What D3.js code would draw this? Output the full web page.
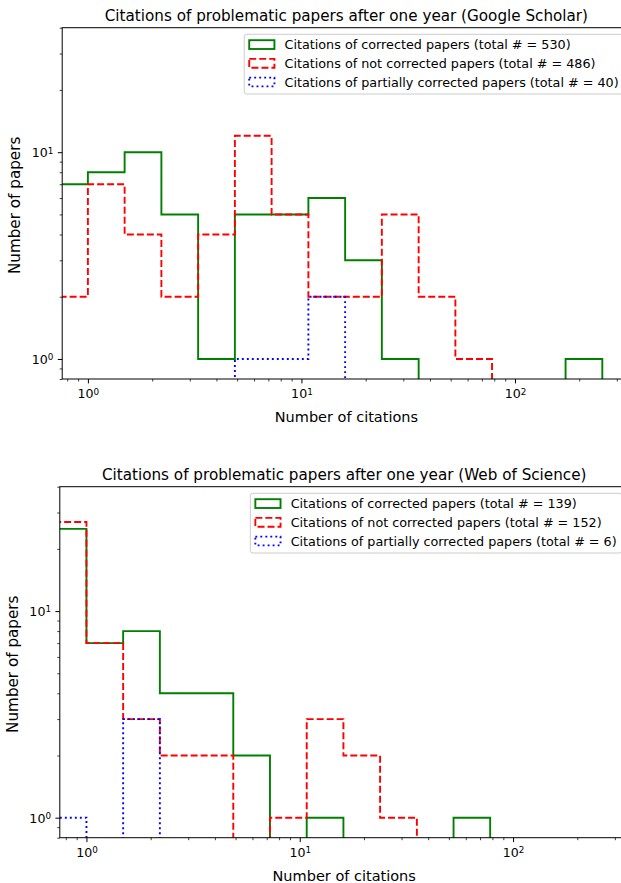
<!DOCTYPE html>
<html>
<head>
<meta charset="utf-8">
<title>Citations of problematic papers</title>
<script src="https://d3js.org/d3.v7.min.js"></script>
<style>
    body { margin: 0; background: #fff; }
    text { font-family: "DejaVu Sans", sans-serif; fill: #000; }
</style>
</head>
<body>
<script>
// log spaced bin edges shared by both histograms, first bin is [0, 1)
const binEdges = [0, 1, 1.486, 2.209, 3.283, 4.879, 7.25, 10.78, 16.02, 23.8, 35.4, 52.6, 78.1, 116.1, 172.6, 256.5];

// Google Scholar, number of papers per bin
const gsCorrected    = [7, 8, 10, 5, 1, 5, 5, 6, 3, 1, 0, 0, 0, 0, 1];
const gsNotCorrected = [2, 7, 4, 2, 4, 12, 5, 2, 2, 5, 2, 1, 0, 0, 0];
const gsPartial      = [0, 0, 0, 0, 0, 1, 1, 2, 0, 0, 0, 0, 0, 0, 0];

// Web of Science, number of papers per bin
const wosCorrected    = [25, 7, 8, 4, 4, 2, 0, 1, 0, 0, 0, 1, 0, 0, 0];
const wosNotCorrected = [27, 7, 3, 2, 2, 0, 1, 3, 2, 1, 0, 0, 0, 0, 0];
const wosPartial      = [1, 0, 3, 0, 0, 0, 0, 0, 0, 0, 0, 0, 0, 0, 0];

const seriesNames = ["corrected", "not corrected", "partially corrected"];
const gsTotals  = [530, 486, 40];
const wosTotals = [139, 152, 6];

const titles = [
    "Citations of problematic papers after one year (Google Scholar)",
    "Citations of problematic papers after one year (Web of Science)"
];
const xMajorTicks = [1, 10, 100];
const yMajorTicks = [1, 10];

// styles for the three step lines
const lineStyles = [
    { color: "#008000", dash: null },
    { color: "#ff0000", dash: "7,3" },
    { color: "#0000ff", dash: "1.9,3.1" }
];

const W = 621, H = 883;
const fs = 12.6;       // tick labels
const legendFs = 12.75;
const titleFs = 15.2;
const xLabelFs = 14.5;
const yLabelFs = 15.2;

const svg = d3.select("body").append("svg")
    .attr("width", W)
    .attr("height", H);

svg.append("rect").attr("width", W).attr("height", H).attr("fill", "#fff");

const panels = [
    { left: 62.2, top: 27.7, right: 630.6, bottom: 379, xmin: 0.758, xmax: 348,
      counts: [gsCorrected, gsNotCorrected, gsPartial], totals: gsTotals, title: titles[0] },
    { left: 59.8, top: 486.7, right: 628.6, bottom: 837.7, xmin: 0.75, xmax: 348,
      counts: [wosCorrected, wosNotCorrected, wosPartial], totals: wosTotals, title: titles[1] }
];

function stepPoints(counts) {
    let pts = [[binEdges[0], 0]];
    counts.forEach(function (c, i) {
        pts.push([binEdges[i], c], [binEdges[i + 1], c]);
    });
    pts.push([binEdges[binEdges.length - 1], 0]);
    return pts;
}

function supLabel(sel) {
    // turn "10" into 10 with a superscript exponent
    sel.append("tspan")
        .attr("dy", "-0.42em")
        .attr("font-size", 8.8)
        .text(function (d) { return Math.round(Math.log10(d)); });
}

panels.forEach(function (p, pi) {
    const w = p.right - p.left, h = p.bottom - p.top;
    const g = svg.append("g").attr("transform", `translate(${p.left},${p.top})`);

    const x = d3.scaleLog().domain([p.xmin, p.xmax]).range([0, w]);
    const y = d3.scaleLog().domain([0.8, 40]).range([h, 0]);

    const clipId = "clip" + pi;
    g.append("clipPath").attr("id", clipId)
        .append("rect").attr("width", w).attr("height", h);

    // zero counts / zero edge fall outside the axes and get clipped, like matplotlib
    const line = d3.line()
        .x(function (d) { return x(d[0] > 0 ? d[0] : x.domain()[0] / 10); })
        .y(function (d) { return y(d[1] > 0 ? d[1] : y.domain()[0] / 10); });

    const lines = g.append("g").attr("clip-path", `url(#${clipId})`);
    p.counts.forEach(function (c, i) {
        lines.append("path")
            .attr("d", line(stepPoints(c)))
            .attr("fill", "none")
            .attr("stroke", lineStyles[i].color)
            .attr("stroke-width", 1.9)
            .attr("stroke-linejoin", "miter")
            .attr("stroke-dasharray", lineStyles[i].dash);
    });

    // minor ticks
    const xMinor = x.ticks().filter(function (t) { return xMajorTicks.indexOf(t) < 0; });
    const yMinor = y.ticks().filter(function (t) { return yMajorTicks.indexOf(t) < 0; });

    g.append("g").attr("transform", `translate(0,${h})`)
        .call(d3.axisBottom(x).tickValues(xMinor).tickSize(2.5).tickSizeOuter(0).tickFormat(""))
        .call(function (a) { a.select(".domain").remove(); a.selectAll("line").attr("stroke-width", 0.76); });
    g.append("g")
        .call(d3.axisLeft(y).tickValues(yMinor).tickSize(2.5).tickSizeOuter(0).tickFormat(""))
        .call(function (a) { a.select(".domain").remove(); a.selectAll("line").attr("stroke-width", 0.76); });

    // major ticks with 10^n labels
    const gx = g.append("g").attr("transform", `translate(0,${h})`)
        .call(d3.axisBottom(x).tickValues(xMajorTicks).tickSize(4.4).tickPadding(4.4).tickSizeOuter(0)
            .tickFormat(function () { return "10"; }));
    gx.select(".domain").remove();
    gx.selectAll("line").attr("stroke-width", 1);
    gx.selectAll("text").attr("font-size", fs).attr("font-family", "DejaVu Sans").attr("dy", null).attr("y", 19.3).call(supLabel);

    const gy = g.append("g")
        .call(d3.axisLeft(y).tickValues(yMajorTicks).tickSize(4.4).tickPadding(4.4).tickSizeOuter(0)
            .tickFormat(function () { return "10"; }));
    gy.select(".domain").remove();
    gy.selectAll("line").attr("stroke-width", 1);
    gy.selectAll("text").attr("font-size", fs).attr("font-family", "DejaVu Sans").attr("dy", null).attr("y", 4.6).call(supLabel);

    // frame
    g.append("rect").attr("width", w).attr("height", h)
        .attr("fill", "none").attr("stroke", "#000").attr("stroke-width", 1);

    // title and axis labels
    g.append("text").attr("x", w / 2).attr("y", -7)
        .attr("text-anchor", "middle").attr("font-size", titleFs).text(p.title);
    g.append("text").attr("x", w / 2).attr("y", h + 43.5)
        .attr("text-anchor", "middle").attr("font-size", xLabelFs).text("Number of citations");
    g.append("text").attr("transform", `translate(-42,${h / 2 + 2}) rotate(-90)`)
        .attr("text-anchor", "middle").attr("font-size", yLabelFs).text("Number of papers");

    // legend, upper right
    const lg = g.append("g");
    const labels = seriesNames.map(function (n, i) {
        return `Citations of ${n} papers (total # = ${p.totals[i]})`;
    });
    const texts = lg.selectAll("text.lab").data(labels).join("text")
        .attr("class", "lab")
        .attr("font-size", legendFs)
        .attr("y", function (d, i) { return 10.3 + i * 18.7 + 4.9; })
        .text(function (d) { return d; });
    let maxLen = 0;
    texts.each(function () { maxLen = Math.max(maxLen, this.getComputedTextLength()); });
    const lw = 5 + 25.2 + 10.1 + maxLen + 5;
    const lh = 59.7;
    const lx = w - 6.9 - lw, ly = 6.6;
    lg.attr("transform", `translate(${lx},${ly})`);
    lg.insert("rect", "text")
        .attr("width", lw).attr("height", lh).attr("rx", 2.5)
        .attr("fill", "#fff").attr("fill-opacity", 0.8)
        .attr("stroke", "#cccccc").attr("stroke-width", 1);
    texts.attr("x", 5 + 25.2 + 10.1);
    lineStyles.forEach(function (s, i) {
        lg.append("rect")
            .attr("x", 5).attr("y", 10.3 + i * 18.7 - 4.4)
            .attr("width", 25.2).attr("height", 8.8)
            .attr("fill", "none")
            .attr("stroke", s.color).attr("stroke-width", 1.9)
            .attr("stroke-dasharray", s.dash);
    });
});
</script>
</body>
</html>
